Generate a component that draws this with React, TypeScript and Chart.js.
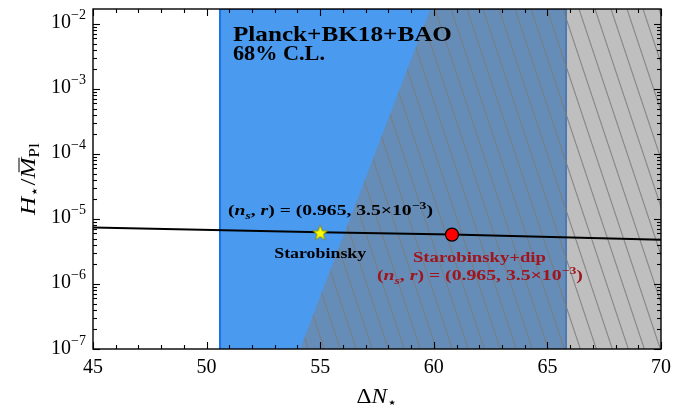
import React, { useEffect, useRef } from "react";
import { Chart, registerables } from "chart.js";

Chart.register(...registerables);

// ---------- data ----------
const X_MIN = 45;
const X_MAX = 70;
const Y_MIN = 1e-7;
const Y_MAX = 1.7e-2;

const xMajorTicks = [45, 50, 55, 60, 65, 70];
const xTickLabels = ["45", "50", "55", "60", "65", "70"];
const yMajorTicks = [1e-7, 1e-6, 1e-5, 1e-4, 1e-3, 1e-2];
const yTickExponents = ["\u22127", "\u22126", "\u22125", "\u22124", "\u22123", "\u22122"];

const blueBandX = [50.59, 50.59, 65.82, 65.82];
const blueBandY = [Y_MIN, Y_MAX, Y_MAX, Y_MIN];

const grayEdgeX = [54.11, 59.85, 70];
const grayEdgeY = [Y_MIN, Y_MAX, Y_MAX];

const lineX = [45, 55, 60.8, 70];
const lineY = [7.4e-6, 6.25e-6, 5.75e-6, 4.8e-6];

const starX = [55];
const starY = [6.2e-6];
const dipX = [60.8];
const dipY = [5.75e-6];

// ---------- text ----------
type Seg = { t: string; it?: boolean; bold?: boolean; sub?: boolean; sup?: boolean; bar?: boolean };

const formulaSegs: Seg[] = [
  { t: "(", bold: true },
  { t: "n", bold: true, it: true },
  { t: "s", bold: true, it: true, sub: true },
  { t: ", ", bold: true },
  { t: "r", bold: true, it: true },
  { t: ") = (0.965, 3.5\u00d710", bold: true },
  { t: "\u22123", bold: true, sup: true },
  { t: ")", bold: true },
];

const annotations = [
  { segs: [{ t: "Planck+BK18+BAO", bold: true }], x: 51.16, y: 5.48e-3, size: 21.5, color: "#000", align: "left", width: 219 },
  { segs: [{ t: "68% C.L.", bold: true }], x: 51.16, y: 2.77e-3, size: 21.5, color: "#000", align: "left", width: 92 },
  { segs: formulaSegs, x: 55.45, y: 1.135e-5, size: 15.5, color: "#000", align: "center", width: 205 },
  { segs: [{ t: "Starobinsky", bold: true }], x: 55.0, y: 2.49e-6, size: 15, color: "#000", align: "center", width: 92 },
  { segs: [{ t: "Starobinsky+dip", bold: true }], x: 62.01, y: 2.16e-6, size: 15, color: "#a0141c", align: "center", width: 133 },
  { segs: formulaSegs, x: 62.03, y: 1.14e-6, size: 15.5, color: "#a0141c", align: "center", width: 206 },
];

const xTitleSegs: Seg[] = [{ t: "\u0394" }, { t: "N", it: true }, { t: "\u22c6", sub: true }];
const yTitleSegs: Seg[] = [
  { t: "H", it: true },
  { t: "\u22c6", sub: true },
  { t: "/" },
  { t: "M", it: true, bar: true },
  { t: "Pl", sub: true },
];

const FAMILY = '"Liberation Serif", "DejaVu Serif", serif';

function drawRich(
  ctx: CanvasRenderingContext2D,
  segs: Seg[],
  x: number,
  y: number,
  size: number,
  color: string,
  align: string,
  targetW?: number
) {
  const parts = segs.map((s) => {
    const fs = s.sub || s.sup ? size * 0.7 : size;
    const font = `${s.it ? "italic " : ""}${s.bold ? "bold " : ""}${fs}px ${FAMILY}`;
    ctx.font = font;
    const w = ctx.measureText(s.t).width;
    const dy = s.sup ? -size * 0.42 : s.sub ? size * 0.22 : 0;
    return { s, font, w, dy };
  });
  const W = parts.reduce((a, p) => a + p.w, 0);
  const sx = targetW ? targetW / W : 1;
  const finalW = W * sx;
  let x0 = x;
  if (align === "center") x0 = x - finalW / 2;
  else if (align === "right") x0 = x - finalW;
  ctx.save();
  ctx.translate(x0, y);
  ctx.scale(sx, 1);
  ctx.fillStyle = color;
  ctx.strokeStyle = color;
  ctx.textAlign = "left";
  ctx.textBaseline = "alphabetic";
  let cx = 0;
  for (const p of parts) {
    ctx.font = p.font;
    ctx.fillText(p.s.t, cx, p.dy);
    if (p.s.bar) {
      ctx.lineWidth = 1;
      ctx.beginPath();
      ctx.moveTo(cx + p.w * 0.3, -size * 0.8);
      ctx.lineTo(cx + p.w * 1.0, -size * 0.8);
      ctx.stroke();
    }
    cx += p.w;
  }
  ctx.restore();
}

function makeHatch(): CanvasPattern | string {
  const c = document.createElement("canvas");
  const w = 16;
  const h = 48;
  c.width = w;
  c.height = h;
  const g = c.getContext("2d");
  if (!g) return "rgba(128,128,128,0.5)";
  g.fillStyle = "rgba(128,128,128,0.5)";
  g.fillRect(0, 0, w, h);
  g.strokeStyle = "rgba(125,125,125,0.85)";
  g.lineWidth = 1.1;
  for (const off of [-w, 0, w]) {
    g.beginPath();
    g.moveTo(off, 0);
    g.lineTo(off + w, h);
    g.stroke();
  }
  const pat = g.createPattern(c, "repeat");
  return pat || "rgba(128,128,128,0.5)";
}

function makeStar(): HTMLCanvasElement {
  const c = document.createElement("canvas");
  c.width = 20;
  c.height = 20;
  const g = c.getContext("2d")!;
  const R = 8.2;
  const r = 3.3;
  g.beginPath();
  for (let i = 0; i < 10; i++) {
    const a = -Math.PI / 2 + (i * Math.PI) / 5;
    const rr = i % 2 === 0 ? R : r;
    const px = 10 + rr * Math.cos(a);
    const py = 10.8 + rr * Math.sin(a);
    if (i === 0) g.moveTo(px, py);
    else g.lineTo(px, py);
  }
  g.closePath();
  g.fillStyle = "#ffff00";
  g.fill();
  g.strokeStyle = "#6b6b00";
  g.lineWidth = 0.6;
  g.stroke();
  return c;
}

const decorPlugin = {
  id: "decor",
  afterDatasetsDraw(chart: any) {
    const ctx: CanvasRenderingContext2D = chart.ctx;
    const { left, right, top, bottom } = chart.chartArea;
    const xs = chart.scales.x;
    const ys = chart.scales.y;

    // annotations
    for (const a of annotations) {
      drawRich(ctx, a.segs as Seg[], xs.getPixelForValue(a.x), ys.getPixelForValue(a.y), a.size, a.color, a.align, a.width);
    }

    ctx.save();
    // ticks
    ctx.strokeStyle = "#000";
    ctx.lineWidth = 1.1;
    const seg = (x1: number, y1: number, x2: number, y2: number) => {
      ctx.beginPath();
      ctx.moveTo(x1, y1);
      ctx.lineTo(x2, y2);
      ctx.stroke();
    };
    for (let v = X_MIN; v <= X_MAX; v += 1) {
      const L = xMajorTicks.includes(v) ? 7 : 4;
      const p = Math.round(xs.getPixelForValue(v)) + 0.5;
      seg(p, bottom, p, bottom - L);
      seg(p, top, p, top + L);
    }
    for (let d = -7; d <= -2; d++) {
      for (let m = 1; m <= 9; m++) {
        const v = m * Math.pow(10, d);
        if (v < Y_MIN * 0.999 || v > Y_MAX) continue;
        const L = m === 1 ? 7 : 4;
        const p = Math.round(ys.getPixelForValue(v)) + 0.5;
        seg(left, p, left + L, p);
        seg(right, p, right - L, p);
      }
    }
    // frame
    ctx.lineWidth = 1.4;
    ctx.strokeRect(left, top, right - left, bottom - top);
    ctx.restore();

    // x tick labels
    xMajorTicks.forEach((v, i) => {
      drawRich(ctx, [{ t: xTickLabels[i] }], xs.getPixelForValue(v), bottom + 24, 20, "#000", "center");
    });
    // y tick labels
    yMajorTicks.forEach((v, i) => {
      const p = ys.getPixelForValue(v);
      ctx.save();
      ctx.fillStyle = "#000";
      ctx.textBaseline = "alphabetic";
      ctx.font = `14px ${FAMILY}`;
      ctx.textAlign = "right";
      const supW = ctx.measureText(yTickExponents[i]).width;
      ctx.fillText(yTickExponents[i], left - 7, p - 4.5);
      ctx.font = `20px ${FAMILY}`;
      ctx.fillText("10", left - 7 - supW, p + 4.5);
      ctx.restore();
    });

    // axis titles
    drawRich(ctx, xTitleSegs, (left + right) / 2, bottom + 54, 20, "#000", "center", 41);
    ctx.save();
    ctx.translate(35, (top + bottom) / 2);
    ctx.rotate(-Math.PI / 2);
    drawRich(ctx, yTitleSegs, 0, 0, 20, "#000", "center", 72);
    ctx.restore();
  },
};

export default function App() {
  const ref = useRef<HTMLCanvasElement | null>(null);

  useEffect(() => {
    if (!ref.current) return;
    const hatch = makeHatch();
    const star = makeStar();
    const pts = (xs: number[], ys: number[]) => xs.map((x, i) => ({ x, y: ys[i] }));

    const chart = new Chart(ref.current, {
      type: "line",
      data: {
        datasets: [
          {
            data: pts(blueBandX, blueBandY),
            fill: "start",
            backgroundColor: "#4a9af0",
            borderColor: "#1a73e8",
            borderWidth: 2,
            pointRadius: 0,
            order: 5,
          },
          {
            data: pts(grayEdgeX, grayEdgeY),
            fill: "start",
            backgroundColor: hatch as any,
            borderWidth: 0,
            borderColor: "rgba(0,0,0,0)",
            pointRadius: 0,
            order: 4,
          },
          {
            data: pts(lineX, lineY),
            fill: false,
            borderColor: "#000",
            borderWidth: 2,
            pointRadius: 0,
            order: 3,
          },
          {
            data: pts(starX, starY),
            showLine: false,
            pointStyle: star as any,
            pointRadius: 8,
            order: 2,
          },
          {
            data: pts(dipX, dipY),
            showLine: false,
            pointStyle: "circle",
            pointRadius: 6.5,
            pointBackgroundColor: "#ff0000",
            pointBorderColor: "#000",
            pointBorderWidth: 1.2,
            order: 1,
          },
        ] as any,
      },
      options: {
        responsive: false,
        animation: false,
        events: [],
        layout: { padding: { left: 93, right: 24, top: 8, bottom: 62 } },
        scales: {
          x: { type: "linear", min: X_MIN, max: X_MAX, display: false },
          y: { type: "logarithmic", min: Y_MIN, max: Y_MAX, display: false },
        },
        plugins: { legend: { display: false }, tooltip: { enabled: false } },
      },
      plugins: [decorPlugin],
    });
    return () => chart.destroy();
  }, []);

  return (
    <div style={{ position: "fixed", left: 0, top: 0, width: 685, height: 411, background: "#fff" }}>
      <canvas ref={ref} width={685} height={411} style={{ display: "block" }} />
    </div>
  );
}
